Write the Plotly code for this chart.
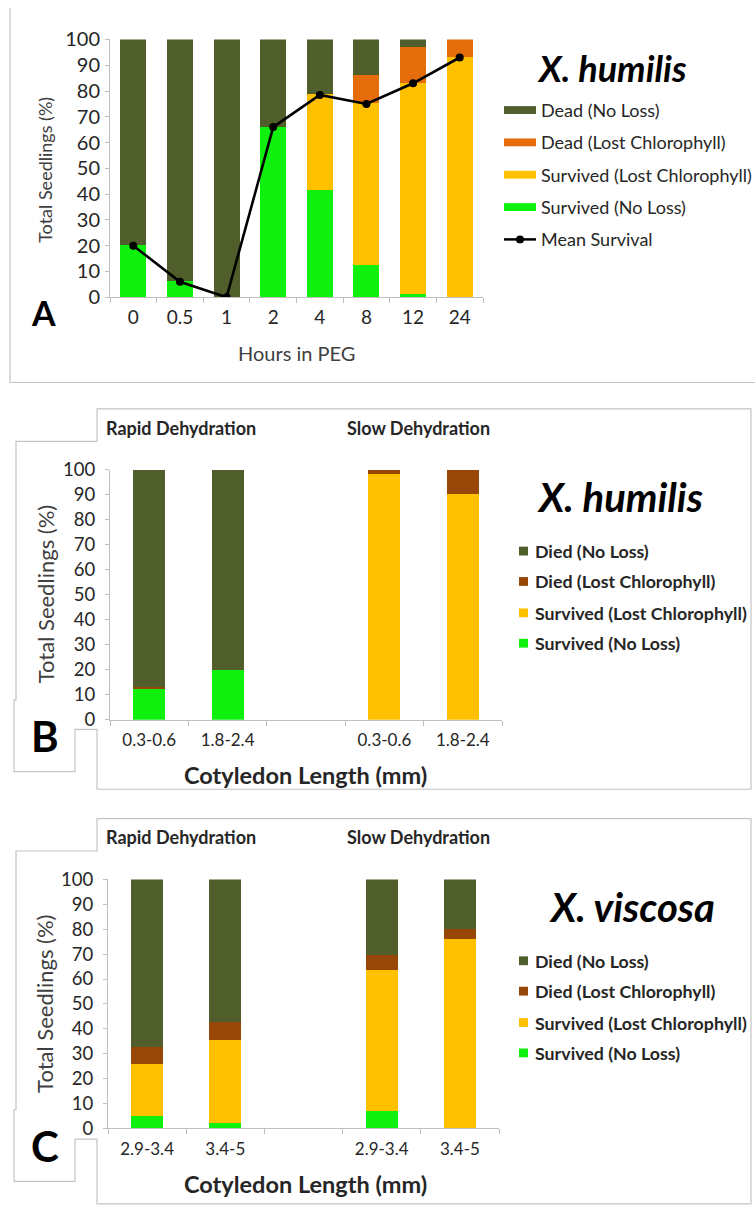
import plotly.graph_objects as go

W, H = 755, 1207
def px(x): return x / W
def py(y): return 1 - y / H

FONT = "Lato"

# ---------------- Data ----------------
# Panel A: X. humilis, hours in PEG
hours = ["0", "0.5", "1", "2", "4", "8", "12", "24"]
a_surv_noloss = [20, 6, 0, 66, 41.5, 12.5, 1, 0]
a_surv_lost = [0, 0, 0, 0, 37, 62.5, 82, 93]
a_dead_lost = [0, 0, 0, 0, 0, 11, 14, 7]
a_dead_noloss = [80, 94, 100, 34, 21.5, 14, 3, 0]
a_mean = [20, 6, 0, 66, 78.5, 75, 83, 93]
a_names = ["Dead (No Loss)", "Dead (Lost Chlorophyll)", "Survived (Lost Chlorophyll)",
           "Survived (No Loss)", "Mean Survival"]

# Panel B: X. humilis, cotyledon length
b_groups = ["Rapid", "Rapid", "Slow", "Slow"]
b_labels = ["0.3-0.6", "1.8-2.4", "0.3-0.6", "1.8-2.4"]
b_surv_noloss = [12.5, 20, 0, 0]
b_surv_lost = [0, 0, 98.5, 90.5]
b_dead_lost = [0.5, 0, 1.5, 9.5]
b_dead_noloss = [87, 80, 0, 0]

# Panel C: X. viscosa, cotyledon length
c_groups = ["Rapid", "Rapid", "Slow", "Slow"]
c_labels = ["2.9-3.4", "3.4-5", "2.9-3.4", "3.4-5"]
c_surv_noloss = [5, 2, 7, 0]
c_surv_lost = [20.5, 33.5, 56.5, 76]
c_dead_lost = [7, 7, 6, 4]
c_dead_noloss = [67.5, 57.5, 30.5, 20]
bc_names = ["Died (No Loss)", "Died (Lost Chlorophyll)", "Survived (Lost Chlorophyll)",
            "Survived (No Loss)"]

# Colours
OLIVE = "#4F5E2B"
ORANGE = "#E46C0A"
BROWN = "#974808"
GOLD = "#FFC000"
GREEN = "#0FF00F"
AXIS = "#BFBFBF"
FRAME = "#C4C4C4"
TXT = "#262626"

fig = go.Figure()

# ---------------- Panel A traces ----------------
for vals, col, name in [(a_surv_noloss, GREEN, a_names[3]), (a_surv_lost, GOLD, a_names[2]),
                        (a_dead_lost, ORANGE, a_names[1]), (a_dead_noloss, OLIVE, a_names[0])]:
    fig.add_trace(go.Bar(x=hours, y=vals, marker=dict(color=col, line_width=0), width=0.56,
                         name=name, xaxis="x", yaxis="y", showlegend=False))
fig.add_trace(go.Scatter(x=hours, y=a_mean, mode="lines+markers", line=dict(color="black", width=2.6),
                         marker=dict(color="black", size=8), name=a_names[4],
                         xaxis="x", yaxis="y", showlegend=False))

# ---------------- Panel B / C traces ----------------
def keys(groups, labels):
    return [f"{g}|{l}" for g, l in zip(groups, labels)]

def cat_array(groups, labels):
    k = keys(groups, labels)
    n_r = groups.count("Rapid")
    return k[:n_r] + ["gap"] + k[n_r:]

for (groups, labels, sn, sl, dl, dn, xa, ya) in [
        (b_groups, b_labels, b_surv_noloss, b_surv_lost, b_dead_lost, b_dead_noloss, "x2", "y2"),
        (c_groups, c_labels, c_surv_noloss, c_surv_lost, c_dead_lost, c_dead_noloss, "x3", "y3")]:
    k = keys(groups, labels)
    for vals, col, name in [(sn, GREEN, bc_names[3]), (sl, GOLD, bc_names[2]),
                            (dl, BROWN, bc_names[1]), (dn, OLIVE, bc_names[0])]:
        fig.add_trace(go.Bar(x=k, y=vals, marker=dict(color=col, line_width=0), width=0.41,
                             name=name, xaxis=xa, yaxis=ya, showlegend=False))

# ---------------- Axes ----------------
def yax(dom, size, standoff):
    return dict(domain=dom, range=[0, 100], dtick=10, showline=True, linecolor=AXIS, linewidth=1,
                ticks="outside", ticklen=4, tickcolor=AXIS, showgrid=False, zeroline=False,
                tickfont=dict(family=FONT, size=size, color=TXT), ticklabelstandoff=standoff,
                fixedrange=True)

def xax(dom, anchor, cats, ticktext, size, standoff):
    return dict(domain=dom, anchor=anchor, type="category", categoryorder="array", categoryarray=cats,
                range=[-0.5, len(cats) - 0.5], showline=True, linecolor=AXIS, linewidth=1,
                ticks="outside", ticklen=5, tickcolor=AXIS, tickson="boundaries",
                tickmode="array", tickvals=cats, ticktext=ticktext, showgrid=False,
                tickfont=dict(family=FONT, size=size, color=TXT), ticklabelstandoff=standoff)

b_cats = cat_array(b_groups, b_labels)
c_cats = cat_array(c_groups, c_labels)
b_text = b_labels[:2] + [""] + b_labels[2:]
c_text = c_labels[:2] + [""] + c_labels[2:]

fig.update_layout(
    xaxis=xax([px(110), px(483)], "y", hours, hours, 19, 3),
    yaxis=yax([py(290), py(27)], 20, 1),
    xaxis2=xax([px(110), px(502)], "y2", b_cats, b_text, 17, 5),
    yaxis2=yax([py(721), py(466)], 18.5, 6),
    xaxis3=xax([px(108), px(499)], "y3", c_cats, c_text, 17, 5),
    yaxis3=yax([py(1138), py(884)], 18.5, 6),
)
fig.update_layout(yaxis2_anchor="x2", yaxis3_anchor="x3", yaxis_anchor="x")

# ---------------- Frames ----------------
def path(points, close=True):
    s = "M " + " L ".join(f"{px(x)},{py(y)}" for x, y in points)
    return s + (" Z" if close else "")

shapes = []
shapes.append(dict(type="path", xref="paper", yref="paper",
                   path=path([(10, -5), (10, 377), (760, 377)], close=False),
                   line=dict(color=FRAME, width=1.2)))
for dy, bottom in [(0, 792), (418, 1215)]:
    pts = [(97, 404 + dy), (751, 404 + dy), (751, bottom), (97, bottom), (97, 731 + dy), (75, 731 + dy),
           (75, 774 + dy), (14, 774 + dy), (14, 701 + dy), (16, 701 + dy), (16, 437 + dy), (97, 437 + dy)]
    shapes.append(dict(type="path", xref="paper", yref="paper", path=path(pts),
                       line=dict(color=FRAME, width=1.2)))

ann = []
def text(x, y, s, size, bold=False, italic=False, color=TXT, angle=0, xanchor="center"):
    if bold:
        s = f"<b>{s}</b>"
    if italic:
        s = f"<i>{s}</i>"
    ann.append(dict(x=px(x), y=py(y), xref="paper", yref="paper", text=s, showarrow=False,
                    font=dict(family=FONT, size=size, color=color), textangle=angle,
                    xanchor=xanchor, yanchor="middle"))

# Panel A texts
text(45, 160, "Total Seedlings (%)", 18, angle=-90, color="#404040")
text(296, 347, "Hours in PEG", 20, color="#404040")
text(43, 306, "A", 34, bold=True, color="black")
text(612, 56, "X. humilis", 36, bold=True, italic=True, color="black")

# Panel A legend
a_cols = [OLIVE, ORANGE, GOLD, GREEN]
a_ys = [99, 132, 165, 198, 231]
for i, (nm, yy) in enumerate(zip(a_names, a_ys)):
    if i < 4:
        shapes.append(dict(type="rect", xref="paper", yref="paper", x0=px(504), x1=px(536),
                           y0=py(yy + 4), y1=py(yy - 4), fillcolor=a_cols[i], line_width=0))
    else:
        shapes.append(dict(type="line", xref="paper", yref="paper", x0=px(504), x1=px(536),
                           y0=py(yy), y1=py(yy), line=dict(color="black", width=2.5)))
        shapes.append(dict(type="circle", xref="paper", yref="paper", x0=px(516), x1=px(524),
                           y0=py(yy + 4), y1=py(yy - 4), fillcolor="black", line_width=0))
    text(539, yy, nm, 18, color="#262626", xanchor="left")

# Panels B / C texts
bc_cols = [OLIVE, BROWN, GOLD, GREEN]
for dy, letter, title, tx in [(0, "B", "X. humilis", 620), (418, "C", "X. viscosa", 632)]:
    text(181, 423 + dy, "Rapid Dehydration", 18, bold=True)
    text(418, 423 + dy, "Slow Dehydration", 18, bold=True)
    text(45, 593 + dy, "Total Seedlings (%)", 22, angle=-90, color="#404040")
    text(305, 777 + dy, "Cotyledon Length (mm)", 23.5, bold=True)
    text(45, 738 + dy, letter, 42, bold=True, color="black")
    text(tx, 494 + dy, title, 40, bold=True, italic=True, color="black")
    for i, (nm, yy) in enumerate(zip(bc_names, [549, 580, 612, 643])):
        shapes.append(dict(type="rect", xref="paper", yref="paper", x0=px(519), x1=px(528),
                           y0=py(yy + dy + 4.5), y1=py(yy + dy - 4.5), fillcolor=bc_cols[i], line_width=0))
        text(533, yy + dy, nm, 17.8, bold=True, xanchor="left")

fig.update_layout(
    width=W, height=H, margin=dict(l=0, r=0, t=0, b=0),
    paper_bgcolor="white", plot_bgcolor="white", barmode="stack", bargap=0,
    showlegend=False, shapes=shapes, annotations=ann,
    font=dict(family=FONT, color=TXT),
)

fig.write_html("out.html")
